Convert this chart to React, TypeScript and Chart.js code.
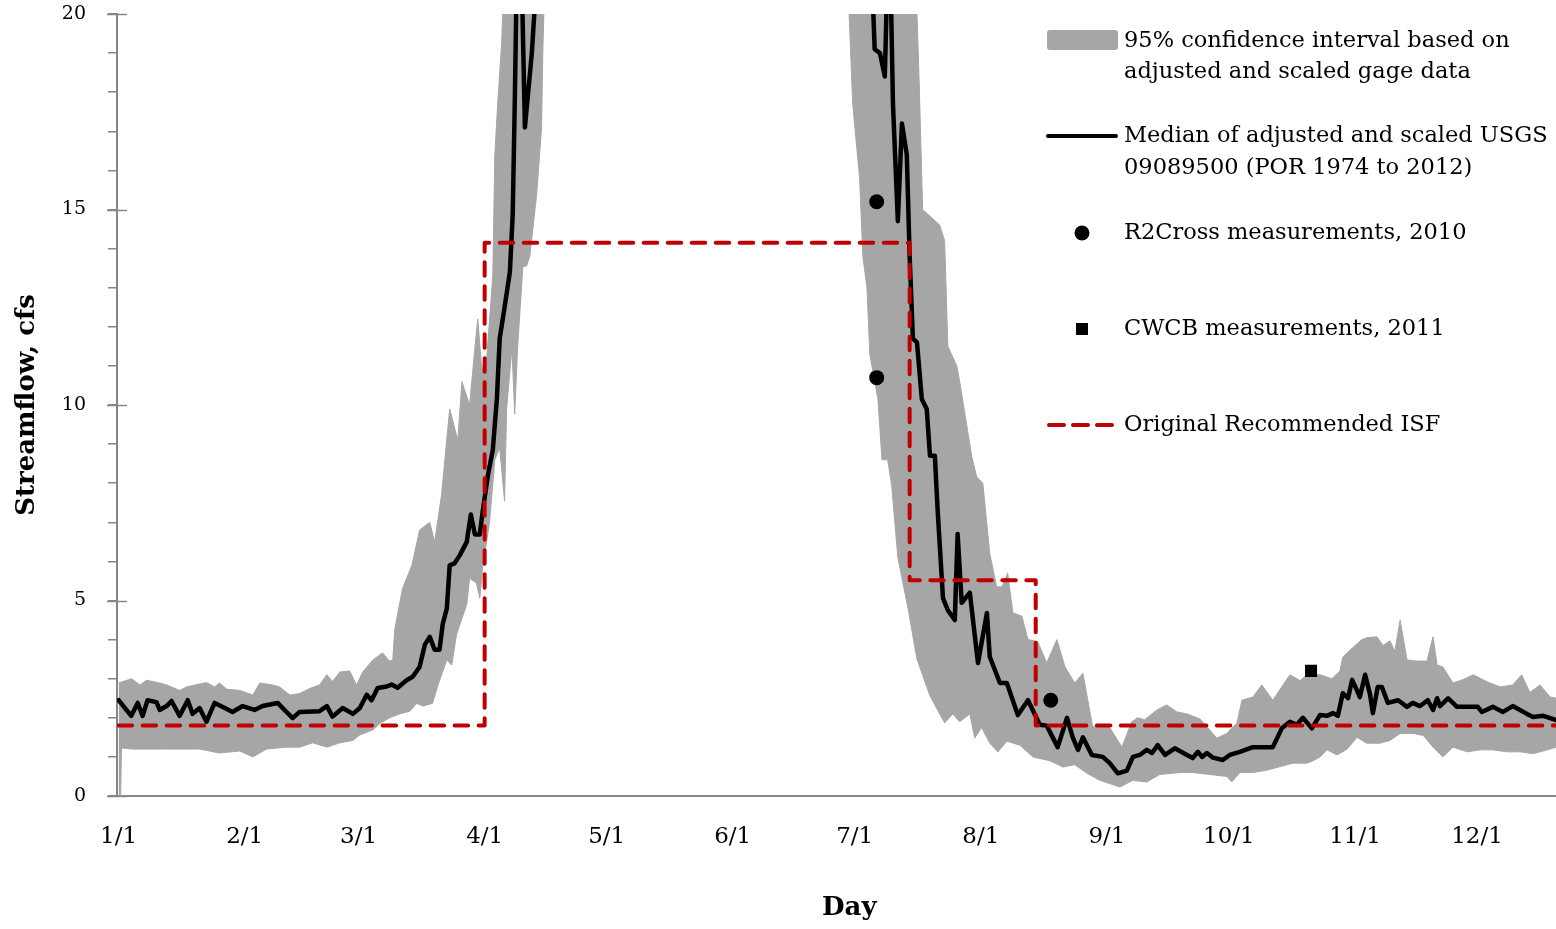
import React, { useEffect, useRef } from 'react';
import { Chart, registerables } from 'chart.js';

Chart.register(...registerables);

const FONT = '"DejaVu Serif", "Liberation Serif", serif';

// x axis: day of year (0 = Jan 1)
const monthTickDays = [0, 31, 59, 90, 120, 151, 181, 212, 243, 273, 304, 334];
const monthTickLabels = ['1/1', '2/1', '3/1', '4/1', '5/1', '6/1', '7/1', '8/1', '9/1', '10/1', '11/1', '12/1'];
const yMajorTicks = [0, 5, 10, 15, 20];

// [day, cfs]
const medianPoints: [number, number][] = [
  [0, 2.45], [3.1, 2.05], [4.7, 2.38], [5.9, 2.05], [7.1, 2.45], [9.3, 2.4], [10.1, 2.2], [11.8, 2.3], [13.0, 2.43],
  [15.0, 2.05], [17.0, 2.45], [18.2, 2.1], [19.9, 2.25], [21.6, 1.9], [23.6, 2.38], [26.1, 2.25], [28.0, 2.15],
  [30.5, 2.3], [33.4, 2.2], [35.4, 2.3], [39.1, 2.38], [40.8, 2.2], [42.8, 1.99], [44.5, 2.15], [49.4, 2.17],
  [51.2, 2.3], [52.6, 2.03], [55.1, 2.25], [57.6, 2.1], [59.3, 2.25], [61.0, 2.59], [62.2, 2.45], [63.7, 2.76],
  [65.9, 2.8], [67.1, 2.85], [68.6, 2.77], [70.8, 2.96], [72.3, 3.05], [74.0, 3.3], [75.3, 3.87], [76.5, 4.07],
  [77.7, 3.74], [78.9, 3.74], [79.7, 4.4], [80.7, 4.8], [81.4, 5.9], [82.6, 5.95], [83.9, 6.16], [85.6, 6.5],
  [86.6, 7.2], [87.6, 6.69], [88.8, 6.69], [89.5, 7.27], [90.8, 8.2], [92.0, 8.85], [93.0, 10.15], [93.7, 11.7],
  [94.9, 12.5], [96.2, 13.4], [96.9, 14.87], [97.4, 17.7], [97.9, 21], [98.9, 22], [99.9, 17.1], [101.6, 19],
  [102.8, 21], [108, 28], [120, 40], [140, 48], [160, 45], [175, 32], [182, 24], [185.4, 20.5], [185.9, 19.1],
  [187.2, 19.0], [188.4, 18.4], [188.9, 20.5], [189.6, 22], [190.4, 17.7], [191.6, 14.7], [192.6, 17.2],
  [193.8, 16.4], [194.5, 13.8], [195.3, 11.7], [196.3, 11.6], [197.5, 10.15], [198.7, 9.9], [199.5, 8.7],
  [200.7, 8.7], [201.4, 7.28], [202.7, 5.06], [203.9, 4.75], [205.6, 4.5], [206.3, 6.7], [207.3, 4.94],
  [209.3, 5.2], [211.3, 3.4], [213.5, 4.68], [214.2, 3.56], [216.7, 2.89], [218.4, 2.89], [221.1, 2.07],
  [223.6, 2.45], [226.5, 1.82], [228.2, 1.8], [230.9, 1.25], [233.2, 2.0], [234.6, 1.5], [235.9, 1.18],
  [237.1, 1.5], [239.3, 1.05], [242.0, 1.0], [243.7, 0.84], [245.7, 0.58], [247.9, 0.65], [249.4, 1.0],
  [251.1, 1.05], [252.8, 1.18], [254.1, 1.1], [255.5, 1.3], [257.3, 1.05], [259.7, 1.22], [262.7, 1.05],
  [264.1, 0.97], [265.4, 1.13], [266.4, 1.0], [267.6, 1.1], [269.1, 0.98], [271.5, 0.92], [273.2, 1.05],
  [275.7, 1.13], [278.9, 1.25], [283.8, 1.25], [286.0, 1.73], [288.0, 1.9], [289.7, 1.82], [291.2, 2.0],
  [293.4, 1.73], [295.4, 2.07], [297.1, 2.05], [298.6, 2.12], [299.8, 2.05], [301.0, 2.63], [302.3, 2.5],
  [303.3, 2.97], [304.5, 2.7], [305.2, 2.53], [306.5, 3.1], [307.7, 2.6], [308.4, 2.12], [309.6, 2.79],
  [310.6, 2.79], [312.1, 2.38], [314.6, 2.45], [316.8, 2.28], [318.2, 2.38], [320.0, 2.3], [321.9, 2.45],
  [323.2, 2.2], [324.2, 2.5], [324.9, 2.3], [326.9, 2.5], [329.1, 2.28], [331.6, 2.28], [334.2, 2.28],
  [335.2, 2.15], [337.9, 2.28], [340.4, 2.15], [342.8, 2.3], [346.3, 2.1], [347.8, 2.02], [350.3, 2.05],
  [353.5, 1.94],
];

const upperPoints: [number, number][] = [
  [0, 2.89], [3.2, 3.0], [5.2, 2.84], [6.9, 2.96], [10.1, 2.89], [11.8, 2.84], [15.0, 2.7], [16.7, 2.79],
  [21.6, 2.9], [23.6, 2.79], [24.8, 2.89], [26.6, 2.73], [29.8, 2.7], [33.0, 2.58], [34.7, 2.89], [37.9, 2.84],
  [39.6, 2.79], [42.1, 2.58], [44.5, 2.62], [47.0, 2.75], [49.4, 2.84], [51.2, 3.1], [52.6, 2.93], [54.4, 3.17],
  [56.8, 3.2], [58.5, 2.84], [60.0, 3.17], [62.5, 3.48], [64.9, 3.66], [66.6, 3.45], [67.4, 3.48], [67.9, 4.27],
  [69.8, 5.3], [72.1, 5.9], [74.0, 6.8], [76.5, 7.0], [77.7, 6.5], [79.4, 7.7], [81.4, 9.9], [83.4, 9.1],
  [84.4, 10.6], [86.3, 10.0], [87.6, 11.46], [88.3, 12.2], [89.3, 10.9], [90.5, 11.2], [92.0, 13.3], [92.5, 16.4],
  [93.2, 17.7], [94.2, 19.3], [94.7, 21], [100, 35], [120, 60], [150, 70], [180, 55], [195, 25], [196.0, 21],
  [196.8, 18.4], [197.7, 15.0], [201.9, 14.6], [203.1, 14.2], [203.9, 11.5], [206.1, 11.0], [206.8, 10.6],
  [209.8, 8.67], [211.0, 8.16], [212.5, 8.0], [214.2, 6.2], [215.9, 5.35], [217.2, 5.35], [218.6, 5.7],
  [219.9, 4.68], [222.1, 4.6], [223.6, 4.0], [226.0, 3.95], [228.2, 3.4], [230.7, 4.0], [232.7, 3.3],
  [235.1, 2.89], [237.1, 3.14], [239.5, 1.77], [243.7, 1.75], [246.7, 1.25], [249.1, 1.9], [250.6, 2.0],
  [252.3, 1.95], [255.3, 2.2], [257.7, 2.33], [260.2, 2.15], [262.7, 2.1], [265.9, 1.97], [268.3, 1.69],
  [270.0, 1.48], [272.5, 1.6], [275.0, 1.87], [276.2, 2.45], [278.9, 2.53], [281.1, 2.84], [283.8, 2.45],
  [288.0, 3.1], [290.5, 2.95], [292.2, 3.1], [295.4, 3.1], [298.3, 3.0], [300.3, 3.2], [301.0, 3.55],
  [303.3, 3.78], [305.7, 4.0], [306.9, 4.05], [309.4, 4.07], [310.9, 3.85], [312.6, 3.97], [313.8, 3.7],
  [315.1, 4.5], [316.8, 3.48], [319.3, 3.45], [321.7, 3.45], [323.2, 4.07], [324.2, 3.35], [325.6, 3.3],
  [328.1, 2.89], [330.6, 2.98], [333.1, 3.1], [336.5, 2.92], [339.7, 2.79], [342.8, 2.84], [345.0, 3.1],
  [347.0, 2.65], [349.5, 2.84], [352.0, 2.53], [353.5, 2.5],
];

const lowerPoints: [number, number][] = [
  [0, 0], [0.5, 0], [0.7, 1.23], [3.4, 1.2], [11.8, 1.2], [19.9, 1.2], [24.8, 1.1], [29.8, 1.15], [33.0, 1.0],
  [36.4, 1.2], [41.3, 1.25], [44.5, 1.25], [47.7, 1.36], [51.2, 1.25], [54.4, 1.36], [57.6, 1.42], [59.3, 1.56],
  [62.5, 1.69], [64.2, 1.85], [66.6, 2.0], [69.1, 2.1], [71.6, 2.17], [73.3, 2.37], [74.8, 2.3], [77.2, 2.37],
  [78.5, 2.83], [80.7, 3.48], [81.9, 3.35], [83.1, 4.14], [85.6, 4.9], [86.3, 5.57], [88.0, 5.44], [88.8, 5.06],
  [89.5, 5.83], [91.2, 7.0], [92.5, 8.6], [93.7, 8.9], [94.9, 7.54], [95.4, 9.9], [96.7, 11.46], [97.4, 9.77],
  [98.1, 11.46], [99.4, 13.55], [100.3, 13.55], [101.1, 13.8], [102.8, 15.4], [104.0, 17.1], [104.3, 19],
  [104.8, 21], [115, 28], [140, 35], [160, 35], [175, 26], [179.5, 20.3], [180.5, 17.7], [182.2, 15.8],
  [183.0, 13.8], [184.0, 13.0], [184.7, 11.3], [186.7, 10.15], [187.7, 8.6], [189.1, 8.6], [190.1, 7.93],
  [191.6, 6.1], [194.1, 4.8], [196.3, 3.5], [199.5, 2.56], [203.1, 1.87], [205.1, 2.1], [206.8, 1.9],
  [209.3, 2.1], [210.5, 1.48], [212.2, 1.75], [214.2, 1.35], [216.2, 1.13], [218.4, 1.4], [221.6, 1.3],
  [224.8, 1.0], [229.0, 0.9], [232.2, 0.74], [235.1, 0.8], [238.1, 0.58], [241.3, 0.4], [246.2, 0.23],
  [249.4, 0.4], [252.8, 0.36], [256.0, 0.55], [260.9, 0.6], [264.1, 0.6], [268.3, 0.55], [272.5, 0.5],
  [273.7, 0.36], [275.7, 0.6], [278.9, 0.6], [282.3, 0.66], [285.5, 0.75], [288.7, 0.84], [292.2, 0.84],
  [293.7, 0.9], [295.4, 1.0], [297.1, 1.18], [299.6, 1.05], [302.1, 1.2], [304.5, 1.5], [306.9, 1.35],
  [310.1, 1.35], [312.6, 1.42], [315.1, 1.6], [318.3, 1.6], [320.8, 1.55], [323.2, 1.25], [325.6, 1.0],
  [328.1, 1.25], [331.6, 1.13], [334.8, 1.18], [337.9, 1.18], [341.4, 1.13], [344.6, 1.13], [347.8, 1.08],
  [351.3, 1.18], [353.5, 1.25],
];

// Original recommended ISF (step line)
const isfDays = [0, 90, 90, 194.5, 194.5, 225.5, 225.5, 362];
const isfValues = [1.8, 1.8, 14.15, 14.15, 5.52, 5.52, 1.8, 1.8];

const r2crossPoints: [number, number][] = [[186.4, 15.2], [186.4, 10.7], [229.2, 2.45]];
const cwcbPoints: [number, number][] = [[293.2, 3.2]];

const legendLines = {
  band: ['95% confidence interval based on', 'adjusted and scaled gage data'],
  median: ['Median of adjusted and scaled USGS', '09089500 (POR 1974 to 2012)'],
  r2: 'R2Cross measurements, 2010',
  cwcb: 'CWCB measurements, 2011',
  isf: 'Original Recommended ISF',
};

const GRAY = '#a6a6a6';
const AXIS = '#868686';
const RED = '#c00000';

const toXY = (arr: [number, number][]) => arr.map(([x, y]) => ({ x, y }));

export default function App() {
  const ref = useRef<HTMLCanvasElement | null>(null);

  useEffect(() => {
    const canvas = ref.current;
    if (!canvas) return;

    const majorTickPlugin = {
      id: 'majorTicks',
      afterDraw(chart: any) {
        const ys = chart.scales.y;
        const ctx = chart.ctx;
        ctx.save();
        ctx.strokeStyle = AXIS;
        ctx.lineWidth = 1.5;
        for (const v of yMajorTicks) {
          const py = Math.round(ys.getPixelForValue(v)) + 0.5;
          ctx.beginPath();
          ctx.moveTo(ys.right - 10, py);
          ctx.lineTo(ys.right + 10, py);
          ctx.stroke();
        }
        ctx.restore();
      },
    };

    const legendPlugin = {
      id: 'customLegend',
      afterDraw(chart: any) {
        const ctx = chart.ctx;
        ctx.save();
        const tx = 1124;
        ctx.font = `22.5px ${FONT}`;
        ctx.textAlign = 'left';
        ctx.textBaseline = 'middle';
        // band
        ctx.fillStyle = GRAY;
        ctx.beginPath();
        ctx.roundRect(1047, 30, 71, 20, 3);
        ctx.fill();
        ctx.fillStyle = '#000';
        ctx.fillText(legendLines.band[0], tx, 41);
        ctx.fillText(legendLines.band[1], tx, 72);
        // median
        ctx.strokeStyle = '#000';
        ctx.lineWidth = 4;
        ctx.lineCap = 'round';
        ctx.beginPath();
        ctx.moveTo(1048, 136);
        ctx.lineTo(1116, 136);
        ctx.stroke();
        ctx.fillText(legendLines.median[0], tx, 136);
        ctx.fillText(legendLines.median[1], tx, 168);
        // r2cross
        ctx.beginPath();
        ctx.arc(1082, 233, 7.5, 0, Math.PI * 2);
        ctx.fill();
        ctx.fillText(legendLines.r2, tx, 233);
        // cwcb
        ctx.fillRect(1076, 323, 12, 12);
        ctx.fillText(legendLines.cwcb, tx, 329);
        // isf
        ctx.strokeStyle = RED;
        ctx.setLineDash([15, 9]);
        ctx.beginPath();
        ctx.moveTo(1049, 425);
        ctx.lineTo(1112, 425);
        ctx.stroke();
        ctx.setLineDash([]);
        ctx.fillText(legendLines.isf, tx, 425);
        ctx.restore();
      },
    };

    const chart = new Chart(canvas, {
      type: 'line',
      data: {
        datasets: [
          {
            label: 'R2Cross measurements, 2010',
            data: toXY(r2crossPoints),
            showLine: false,
            pointStyle: 'circle',
            pointRadius: 7.5,
            backgroundColor: '#000',
            borderColor: '#000',
            borderWidth: 0,
          },
          {
            label: 'CWCB measurements, 2011',
            data: toXY(cwcbPoints),
            showLine: false,
            pointStyle: 'rect',
            pointRadius: 8.5,
            backgroundColor: '#000',
            borderColor: '#000',
            borderWidth: 0,
          },
          {
            label: 'Original Recommended ISF',
            data: isfDays.map((d, i) => ({ x: d, y: isfValues[i] })),
            borderColor: RED,
            borderWidth: 4,
            borderDash: [13.5, 10.5],
            borderCapStyle: 'round',
            borderJoinStyle: 'round',
            pointRadius: 0,
            fill: false,
          },
          {
            label: 'Median',
            data: toXY(medianPoints),
            borderColor: '#000',
            borderWidth: 4.5,
            borderJoinStyle: 'round',
            borderCapStyle: 'round',
            pointRadius: 0,
            fill: false,
          },
          {
            label: 'upper',
            data: toXY(upperPoints),
            borderColor: GRAY,
            borderWidth: 1,
            backgroundColor: GRAY,
            pointRadius: 0,
            fill: '+1',
          },
          {
            label: 'lower',
            data: toXY(lowerPoints),
            borderColor: GRAY,
            borderWidth: 1,
            backgroundColor: GRAY,
            pointRadius: 0,
            fill: false,
          },
        ],
      } as any,
      options: {
        responsive: false,
        animation: false,
        devicePixelRatio: 1,
        layout: { padding: { top: 14, left: 0, right: 0, bottom: 0 } },
        plugins: {
          legend: { display: false },
          tooltip: { enabled: false },
        },
        elements: { line: { tension: 0 } },
        scales: {
          x: {
            type: 'linear',
            min: -0.4,
            max: 359.7,
            afterBuildTicks: (s: any) => {
              s.ticks = monthTickDays.map((v) => ({ value: v }));
            },
            afterFit: (s: any) => {
              s.height = 133;
              s.paddingLeft = 0;
              s.paddingRight = 0;
            },
            ticks: {
              autoSkip: false,
              maxRotation: 0,
              minRotation: 0,
              padding: 27,
              color: '#000',
              font: { family: FONT, size: 23 },
              callback: (_v: any, i: number) => monthTickLabels[i],
            },
            grid: { display: false, drawTicks: false },
            border: { display: true, color: AXIS, width: 2 },
            title: {
              display: true,
              text: 'Day',
              color: '#000',
              font: { family: FONT, size: 26, weight: 'bold' },
              padding: { top: 0, bottom: 5 },
            },
          },
          y: {
            type: 'linear',
            min: 0,
            max: 20,
            afterFit: (s: any) => {
              s.width = 117;
              s.paddingTop = 0;
              s.paddingBottom = 0;
            },
            ticks: {
              stepSize: 1,
              autoSkip: false,
              padding: 22,
              color: '#000',
              font: { family: FONT, size: 19 },
              callback: (v: any) => (Number(v) % 5 === 0 ? String(v) : ''),
            },
            grid: { drawOnChartArea: false, drawTicks: true, tickLength: 9, color: AXIS, lineWidth: 1.5 },
            border: { display: true, color: AXIS, width: 2 },
            title: {
              display: true,
              text: 'Streamflow, cfs',
              color: '#000',
              font: { family: FONT, size: 26, weight: 'bold' },
              padding: { top: 12, bottom: 0 },
            },
          },
        },
      } as any,
      plugins: [majorTickPlugin, legendPlugin],
    });

    return () => chart.destroy();
  }, []);

  return (
    <div
      style={{
        position: 'fixed',
        left: 0,
        top: 0,
        width: 1556,
        height: 929,
        overflow: 'hidden',
        background: '#fff',
      }}
    >
      <canvas ref={ref} width={1590} height={929} style={{ display: 'block', width: 1590, height: 929 }} />
    </div>
  );
}
